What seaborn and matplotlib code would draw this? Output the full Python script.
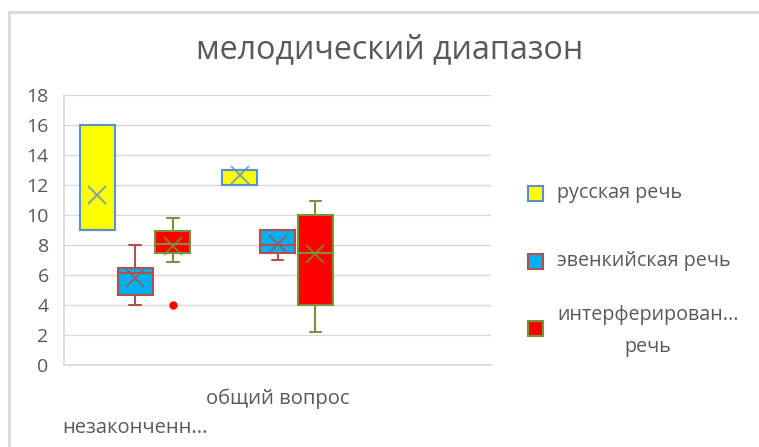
import matplotlib
matplotlib.use("Agg")
import matplotlib.pyplot as plt
import seaborn as sns
from matplotlib.lines import Line2D
from matplotlib.patches import Rectangle

sns.set_theme(style="whitegrid")
plt.rcParams['font.family'] = ['Open Sans', 'DejaVu Sans']

# categories (the third slot is empty in the original chart)
categories = ["незаконченн...", "общий вопрос", ""]
series_names = ["русская речь", "эвенкийская речь", "интерферирован...\nречь"]

# box statistics per series, one value per filled category
russian_whislo = [9, 12]
russian_q1 = [9, 12]
russian_med = [9, 13]
russian_q3 = [16, 13]
russian_whishi = [16, 13]
russian_mean = [11.33, 12.67]
russian_fliers = [[], []]

evenki_whislo = [4, 7]
evenki_q1 = [4.7, 7.5]
evenki_med = [6.15, 8]
evenki_q3 = [6.47, 9]
evenki_whishi = [8, 9]
evenki_mean = [5.8, 8.07]
evenki_fliers = [[], []]

interf_whislo = [6.85, 2.2]
interf_q1 = [7.5, 4]
interf_med = [8.05, 7.5]
interf_q3 = [8.93, 10]
interf_whishi = [9.78, 10.93]
interf_mean = [7.95, 7.4]
interf_fliers = [[4], []]

fills = ["#ffff00", "#00b0f0", "#ff0000"]
edges = ["#5b8fd0", "#b0504f", "#77933c"]
offsets = [-0.265, 0.0, 0.265]


def make_stats(whislo, q1, med, q3, whishi, mean, fliers):
    return [dict(whislo=a, q1=b, med=c, q3=d, whishi=e, mean=f, fliers=g)
            for a, b, c, d, e, f, g in zip(whislo, q1, med, q3, whishi, mean, fliers)]


all_stats = [
    make_stats(russian_whislo, russian_q1, russian_med, russian_q3, russian_whishi, russian_mean, russian_fliers),
    make_stats(evenki_whislo, evenki_q1, evenki_med, evenki_q3, evenki_whishi, evenki_mean, evenki_fliers),
    make_stats(interf_whislo, interf_q1, interf_med, interf_q3, interf_whishi, interf_mean, interf_fliers),
]

fig = plt.figure(figsize=(7.59, 4.47), dpi=100)
ax = fig.add_axes([64 / 759, 1 - 365 / 447, (491 - 64) / 759, 270 / 447])

for stats, fc, ec, off in zip(all_stats, fills, edges, offsets):
    pos = [i + off for i in range(len(stats))]
    ax.bxp(stats, positions=pos, widths=0.245, patch_artist=True,
           showmeans=True, manage_ticks=False, capwidths=0.08,
           boxprops=dict(facecolor=fc, edgecolor=ec, linewidth=1.5),
           medianprops=dict(color=ec, linewidth=1.5),
           whiskerprops=dict(color=ec, linewidth=1.5),
           capprops=dict(color=ec, linewidth=1.5),
           meanprops=dict(marker='x', markersize=13, markeredgecolor=ec,
                          markeredgewidth=1.4, alpha=0.8),
           flierprops=dict(marker='o', markersize=5, markerfacecolor=fc,
                           markeredgecolor=fc))

ax.set_xlim(-0.5, 2.5)
ax.set_ylim(0, 18)
ax.set_yticks(range(0, 19, 2))
ax.set_xticks(range(len(categories)))
ax.set_xticklabels(categories)
ax.grid(axis='y', color='#d9d9d9', linewidth=1)
ax.grid(axis='x', visible=False)
ax.set_facecolor('white')
for side in ['top', 'right']:
    ax.spines[side].set_visible(False)
ax.spines['left'].set_color('#d9d9d9')
ax.spines['bottom'].set_color('#d9d9d9')
ax.tick_params(axis='y', length=0, pad=11, labelsize=14, labelcolor='#595959')
ax.tick_params(axis='x', length=0, labelsize=14.5, labelcolor='#595959')
xt = ax.xaxis.get_major_ticks()
xt[0].set_pad(38)
xt[1].set_pad(17)

fig.text(390 / 759, 1 - 50 / 447, "мелодический диапазон", ha='center', va='center',
         fontsize=23.2, color='#595959')

# legend, laid out like the original
leg_y = [193, 261, 331]
for name, fc, ec, y in zip(series_names, fills, edges, leg_y):
    sq_y = y - 3 if "\n" in name else y
    fig.add_artist(Rectangle((528 / 759, 1 - (sq_y + 7.5) / 447), 15 / 759, 15 / 447,
                             facecolor=fc, edgecolor=ec, linewidth=1.5,
                             transform=fig.transFigure))
    fig.text(557 / 759, 1 - y / 447, name, ha='left', va='center',
             multialignment='center', fontsize=14.2, color='#595959',
             linespacing=1.75)

# chart frame
fig.add_artist(Line2D([9 / 759, 9 / 759], [0, 1 - 12 / 447], color='#d9d9d9', lw=2,
                      transform=fig.transFigure))
fig.add_artist(Line2D([9 / 759, 1], [1 - 12 / 447, 1 - 12 / 447], color='#d9d9d9', lw=2,
                      transform=fig.transFigure))

fig.savefig("out.png", dpi=100)
